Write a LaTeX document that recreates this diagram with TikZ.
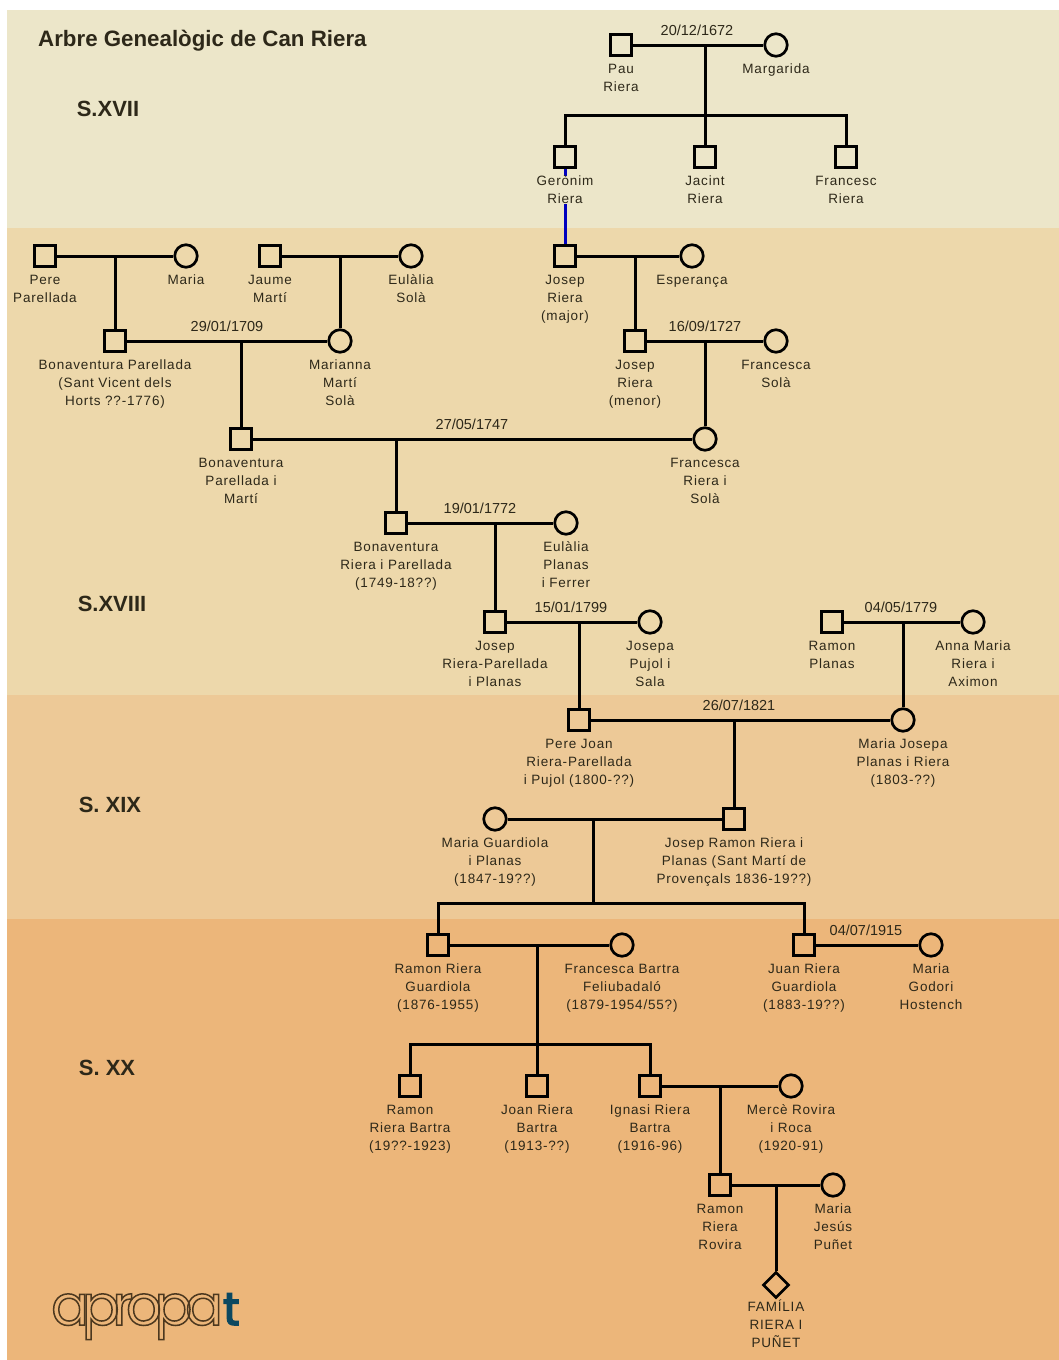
\documentclass[tikz,border=0pt]{standalone}
\usepackage{fontspec}
\setmainfont{Liberation Sans}
\newfontfamily\nomfont[LetterSpace=6]{Liberation Sans}
\newfontfamily\logofont[LetterSpace=-13]{Poppins}
\usetikzlibrary{shapes.geometric}
\definecolor{bandaA}{RGB}{236,230,201}
\definecolor{bandaB}{RGB}{237,216,171}
\definecolor{bandaC}{RGB}{237,201,151}
\definecolor{bandaD}{RGB}{236,182,122}
\definecolor{tinta}{RGB}{45,40,25}

\begin{document}
\begin{tikzpicture}[x=1pt,y=-1pt]
\tikzset{
    %Define style for the people
    mascle/.style={
           rectangle,
           draw=black, line width=3pt,
           inner sep=0pt,
           minimum size=21.5pt,
           },
    femella/.style={
           circle,
           draw=black, line width=2.7pt,
           inner sep=0pt,
           minimum size=22.5pt,
           },
    familia/.style={
           diamond,
           draw=black, line width=2.7pt,
           inner sep=0pt,
           minimum size=26pt,
           },
    % Define text styles, nom takes the number of lines
    nom/.style={
           font=\nomfont\fontsize{13.5}{18}\selectfont,
           text=tinta,
           align=center,
           inner sep=0pt,
           anchor=base,
           yshift={-16.25pt-18pt*(#1-1)},
           },
    nom/.default=1,
    data/.style={
           font=\fontsize{14.5}{18}\selectfont,
           text=tinta,
           inner sep=0pt,
           },
    segle/.style={
           font=\fontsize{22}{26}\selectfont\bfseries,
           text=tinta,
           inner sep=0pt,
           },
    % Define line style
    linia/.style={
           draw=black,
           line width=3pt,
           }
}
	\useasboundingbox (0,0) rectangle (1059,1360);
 %bands
	\fill[bandaA] (7,10) rectangle (1059,228);
	\fill[bandaB] (7,228) rectangle (1059,695);
	\fill[bandaC] (7,695) rectangle (1059,919);
	\fill[bandaD] (7,919) rectangle (1059,1360);

	\node[segle,anchor=west,font=\fontsize{22.3}{26}\selectfont\bfseries] (titol) at (38,41) {Arbre Genealògic de Can Riera};
	\node[segle] (s17) at (108,109) {S.XVII};
	\node[segle] (s18) at (112,604) {S.XVIII};
	\node[segle] (s19) at (110,805) {S. XIX};
	\node[segle] (s20) at (107,1068) {S. XX};

 %people
	\node[mascle] (pau) at (621,45) {};
	\node[femella] (margarida) at (776,45) {};
	\node[mascle] (geronim) at (565,157) {};
	\node[mascle] (jacint) at (705,157) {};
	\node[mascle] (francesc) at (846,157) {};

	\node[mascle] (josepM) at (565,256) {};
	\node[femella] (esperanca) at (692,256) {};
	\node[mascle] (josepm) at (635,341) {};
	\node[femella] (francescaS) at (776,341) {};
	\node[femella] (francescaR) at (705,439) {};

	\node[mascle] (pere) at (45,256) {};
	\node[femella] (maria) at (186,256) {};
	\node[mascle] (jaume) at (270,256) {};
	\node[femella] (eulaliaS) at (411,256) {};
	\node[mascle] (bonaP) at (115,341) {};
	\node[femella] (marianna) at (340,341) {};
	\node[mascle] (bonaM) at (241,439) {};

	\node[mascle] (bonaR) at (396,523) {};
	\node[femella] (eulaliaP) at (566,523) {};
	\node[mascle] (josepRP) at (495,622) {};
	\node[femella] (josepa) at (650,622) {};
	\node[mascle] (ramonP) at (832,622) {};
	\node[femella] (annamaria) at (973,622) {};
	\node[mascle] (perejoan) at (579,720) {};
	\node[femella] (mariajosepa) at (903,720) {};

	\node[femella] (mariaG) at (495,819) {};
	\node[mascle] (josepramon) at (734,819) {};
	\node[mascle] (ramonG) at (438,945) {};
	\node[femella] (francescaB) at (622,945) {};
	\node[mascle] (juan) at (804,945) {};
	\node[femella] (mariaGH) at (931,945) {};

	\node[mascle] (ramonB) at (410,1086) {};
	\node[mascle] (joan) at (537,1086) {};
	\node[mascle] (ignasi) at (650,1086) {};
	\node[femella] (merce) at (791,1086) {};
	\node[mascle] (ramonR) at (720,1185) {};
	\node[femella] (mariajesus) at (833,1185) {};
	\node[familia] (rierapunet) at (776,1285) {};

 %couples
	\coordinate (u1) at (705,45);
	\coordinate (u2) at (635,256);
	\coordinate (u3) at (705,341);
	\coordinate (u4) at (115,256);
	\coordinate (u5) at (340,256);
	\coordinate (u6) at (241,341);
	\coordinate (u7) at (396,439);
	\coordinate (u8) at (495,523);
	\coordinate (u9) at (579,622);
	\coordinate (u10) at (903,622);
	\coordinate (u11) at (734,720);
	\coordinate (u12) at (593,819);
	\coordinate (u13) at (537,945);
	\coordinate (u14) at (720,1086);
	\coordinate (u15) at (776,1185);
	\coordinate (f1) at (705,115);
	\coordinate (f2) at (593,903);
	\coordinate (f3) at (537,1044);

	\path (pau.east) edge[linia] (margarida.west);
	\path (josepM.east) edge[linia] (esperanca.west);
	\path (josepm.east) edge[linia] (francescaS.west);
	\path (pere.east) edge[linia] (maria.west);
	\path (jaume.east) edge[linia] (eulaliaS.west);
	\path (bonaP.east) edge[linia] (marianna.west);
	\path (bonaM.east) edge[linia] (francescaR.west);
	\path (bonaR.east) edge[linia] (eulaliaP.west);
	\path (josepRP.east) edge[linia] (josepa.west);
	\path (ramonP.east) edge[linia] (annamaria.west);
	\path (perejoan.east) edge[linia] (mariajosepa.west);
	\path (mariaG.east) edge[linia] (josepramon.west);
	\path (ramonG.east) edge[linia] (francescaB.west);
	\path (juan.east) edge[linia] (mariaGH.west);
	\path (ignasi.east) edge[linia] (merce.west);
	\path (ramonR.east) edge[linia] (mariajesus.west);

 %children
	\draw[linia] (u1) -- (jacint.north);
	\draw[linia] (geronim.north) |- (f1) -| (francesc.north);
	\path (u2) edge[linia] (josepm.north);
	\path (u3) edge[linia] (francescaR.north);
	\path (u4) edge[linia] (bonaP.north);
	\path (u5) edge[linia] (marianna.north);
	\path (u6) edge[linia] (bonaM.north);
	\path (u7) edge[linia] (bonaR.north);
	\path (u8) edge[linia] (josepRP.north);
	\path (u9) edge[linia] (perejoan.north);
	\path (u10) edge[linia] (mariajosepa.north);
	\path (u11) edge[linia] (josepramon.north);
	\draw[linia] (u12) -- (f2);
	\draw[linia] (ramonG.north) |- (f2) -| (juan.north);
	\draw[linia] (u13) -- (joan.north);
	\draw[linia] (ramonB.north) |- (f3) -| (ignasi.north);
	\path (u14) edge[linia] (ramonR.north);
	\path (u15) edge[linia] (rierapunet.north);
	\draw[line width=3pt,draw=blue!75!black] (geronim.south) -- (josepM.north);

 %dates
	\node[data] (d1) at (697,30) {20/12/1672};
	\node[data] (d2) at (705,326) {16/09/1727};
	\node[data] (d3) at (227,326) {29/01/1709};
	\node[data] (d4) at (472,424) {27/05/1747};
	\node[data] (d5) at (480,508) {19/01/1772};
	\node[data] (d6) at (571,607) {15/01/1799};
	\node[data] (d7) at (901,607) {04/05/1779};
	\node[data] (d8) at (739,705) {26/07/1821};
	\node[data] (d9) at (866,930) {04/07/1915};

 %names
	\node[nom=2] (paunom) at (pau.south) {Pau\\Riera};
	\node[nom] (margaridanom) at (margarida.south) {Margarida};
	\node[nom=2,fill=bandaA] (geronimnom) at (geronim.south) {Gerònim\\Riera};
	\node[nom=2] (jacintnom) at (jacint.south) {Jacint\\Riera};
	\node[nom=2] (francescnom) at (francesc.south) {Francesc\\Riera};

	\node[nom=3] (josepMnom) at (josepM.south) {Josep\\Riera\\(major)};
	\node[nom] (esperancanom) at (esperanca.south) {Esperança};
	\node[nom=3] (josepmnom) at (josepm.south) {Josep\\Riera\\(menor)};
	\node[nom=2] (francescaSnom) at (francescaS.south) {Francesca\\Solà};
	\node[nom=3] (francescaRnom) at (francescaR.south) {Francesca\\Riera i\\Solà};

	\node[nom=2] (perenom) at (pere.south) {Pere\\Parellada};
	\node[nom] (marianom) at (maria.south) {Maria};
	\node[nom=2] (jaumenom) at (jaume.south) {Jaume\\Martí};
	\node[nom=2] (eulaliaSnom) at (eulaliaS.south) {Eulàlia\\Solà};
	\node[nom=3] (bonaPnom) at (bonaP.south) {Bonaventura Parellada\\(Sant Vicent dels\\Horts ??-1776)};
	\node[nom=3] (mariannanom) at (marianna.south) {Marianna\\Martí\\Solà};
	\node[nom=3] (bonaMnom) at (bonaM.south) {Bonaventura\\Parellada i\\Martí};

	\node[nom=3] (bonaRnom) at (bonaR.south) {Bonaventura\\Riera i Parellada\\(1749-18??)};
	\node[nom=3] (eulaliaPnom) at (eulaliaP.south) {Eulàlia\\Planas\\i Ferrer};
	\node[nom=3] (josepRPnom) at (josepRP.south) {Josep\\Riera-Parellada\\i Planas};
	\node[nom=3] (josepanom) at (josepa.south) {Josepa\\Pujol i\\Sala};
	\node[nom=2] (ramonPnom) at (ramonP.south) {Ramon\\Planas};
	\node[nom=3] (annamarianom) at (annamaria.south) {Anna Maria\\Riera i\\Aximon};
	\node[nom=3] (perejoannom) at (perejoan.south) {Pere Joan\\Riera-Parellada\\i Pujol (1800-??)};
	\node[nom=3] (mariajosepanom) at (mariajosepa.south) {Maria Josepa\\Planas i Riera\\(1803-??)};

	\node[nom=3] (mariaGnom) at (mariaG.south) {Maria Guardiola\\i Planas\\(1847-19??)};
	\node[nom=3] (josepramonnom) at (josepramon.south) {Josep Ramon Riera i\\Planas (Sant Martí de\\Provençals 1836-19??)};
	\node[nom=3] (ramonGnom) at (ramonG.south) {Ramon Riera\\Guardiola\\(1876-1955)};
	\node[nom=3] (francescaBnom) at (francescaB.south) {Francesca Bartra\\Feliubadaló\\(1879-1954/55?)};
	\node[nom=3] (juannom) at (juan.south) {Juan Riera\\Guardiola\\(1883-19??)};
	\node[nom=3] (mariaGHnom) at (mariaGH.south) {Maria\\Godori\\Hostench};

	\node[nom=3] (ramonBnom) at (ramonB.south) {Ramon\\Riera Bartra\\(19??-1923)};
	\node[nom=3] (joannom) at (joan.south) {Joan Riera\\Bartra\\(1913-??)};
	\node[nom=3] (ignasinom) at (ignasi.south) {Ignasi Riera\\Bartra\\(1916-96)};
	\node[nom=3] (mercenom) at (merce.south) {Mercè Rovira\\i Roca\\(1920-91)};
	\node[nom=3] (ramonRnom) at (ramonR.south) {Ramon\\Riera\\Rovira};
	\node[nom=3] (mariajesusnom) at (mariajesus.south) {Maria\\Jesús\\Puñet};
	\node[nom=3,yshift=4.5pt] (rierapunetnom) at (rierapunet.south) {FAMÍLIA\\RIERA I\\PUÑET};

 %logo
	\node[inner sep=0pt,anchor=base west,font=\logofont\fontsize{56}{60}\selectfont] (logo) at (51,1325) {\special{pdf:code 1 Tr 1.5 w 0.3 0.22 0.12 RG}apropa\special{pdf:code 2 Tr 1.6 w 0.05 0.28 0.38 RG}\textcolor[RGB]{12,72,96}{\fontsize{46}{60}\selectfont t}\special{pdf:code 0 Tr 0 w}};
\end{tikzpicture}
\end{document}
